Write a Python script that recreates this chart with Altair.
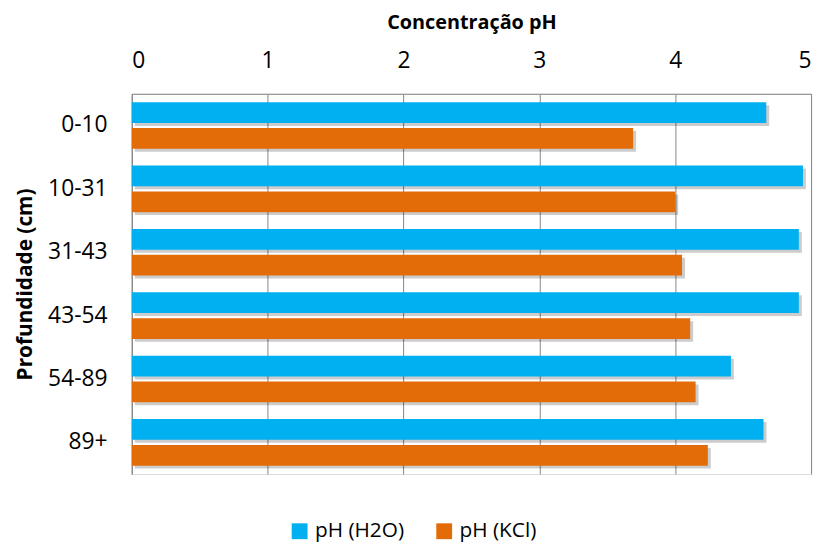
import altair as alt
import pandas as pd

depths = ["0-10", "10-31", "31-43", "43-54", "54-89", "89+"]
series = ["pH (H2O)", "pH (KCl)"]
ph_h2o = [4.67, 4.94, 4.91, 4.91, 4.41, 4.65]
ph_kcl = [3.69, 4.00, 4.05, 4.11, 4.15, 4.24]
colors = ["#00B0F0", "#E36C09"]
x_ticks = [0, 1, 2, 3, 4, 5]

rows = []
for d, a, b in zip(depths, ph_h2o, ph_kcl):
    rows.append({"Profundidade": d, "Serie": series[0], "pH": a})
    rows.append({"Profundidade": d, "Serie": series[1], "pH": b})
df = pd.DataFrame(rows)

FONT = "Open Sans"
W, H = 686, 384
P_IN, P_OUT = 0.266, 0.133
step = H / (len(depths) - P_IN + 2 * P_OUT)
band = step * (1 - P_IN)
SH = 3  # shadow offset in px

ybase = alt.Y(
    "Profundidade:N",
    sort=depths,
    scale=alt.Scale(paddingInner=P_IN, paddingOuter=P_OUT),
    axis=alt.Axis(
        title="Profundidade (cm)",
        titleFont=FONT,
        titleFontSize=21,
        titleFontWeight="bold",
        titleColor="#000000",
        titlePadding=12,
        labelFont=FONT,
        labelFontSize=23,
        labelColor="#000000",
        labelPadding=25,
        ticks=False,
        domainColor="#868686",
        grid=False,
    ),
)

xbase = alt.X(
    "pH:Q",
    scale=alt.Scale(domain=[0, 5], nice=False),
    axis=alt.Axis(
        orient="top",
        title="Concentração pH",
        titleFont=FONT,
        titleFontSize=20,
        titleFontWeight="bold",
        titleColor="#000000",
        titlePadding=17,
        values=x_ticks,
        format="d",
        labelFont=FONT,
        labelFontSize=23,
        labelColor="#000000",
        labelPadding=22,
        ticks=False,
        domainColor="#868686",
        grid=True,
        gridColor="#868686",
        gridWidth=1,
    ),
)

shadow = alt.Chart(df).mark_bar(
    color="#000000", opacity=0.2, xOffset=SH, x2Offset=SH
).encode(
    y=ybase,
    x=xbase,
    yOffset=alt.YOffset(
        "Serie:N", sort=series,
        scale=alt.Scale(paddingInner=0.2, range=[SH, band + SH]),
    ),
)

bars = alt.Chart(df).mark_bar().encode(
    y=ybase,
    x=xbase,
    yOffset=alt.YOffset(
        "Serie:N", sort=series,
        scale=alt.Scale(paddingInner=0.2, range=[0, band]),
    ),
    color=alt.Color(
        "Serie:N",
        sort=series,
        scale=alt.Scale(domain=series, range=colors),
        legend=alt.Legend(
            title=None,
            orient="none",
            legendX=159,
            legendY=431,
            direction="horizontal",
            symbolType="square",
            symbolSize=256,
            symbolStrokeWidth=0,
            labelFont=FONT,
            labelFontSize=21,
            labelColor="#000000",
            labelOffset=5,
            columnPadding=30,
            padding=0,
            labelLimit=0,
        ),
    ),
)

chart = (
    alt.layer(shadow, bars)
    .resolve_scale(yOffset="independent")
    .properties(
        width=W,
        height=H,
        autosize=alt.AutoSizeParams(type="none"),
        padding={"left": 125, "top": 84, "right": 8, "bottom": 70},
    )
    .configure_view(stroke=None)
    .configure(background="#FFFFFF")
)

chart.save("out.html", embed_options={"renderer": "svg", "actions": False})
